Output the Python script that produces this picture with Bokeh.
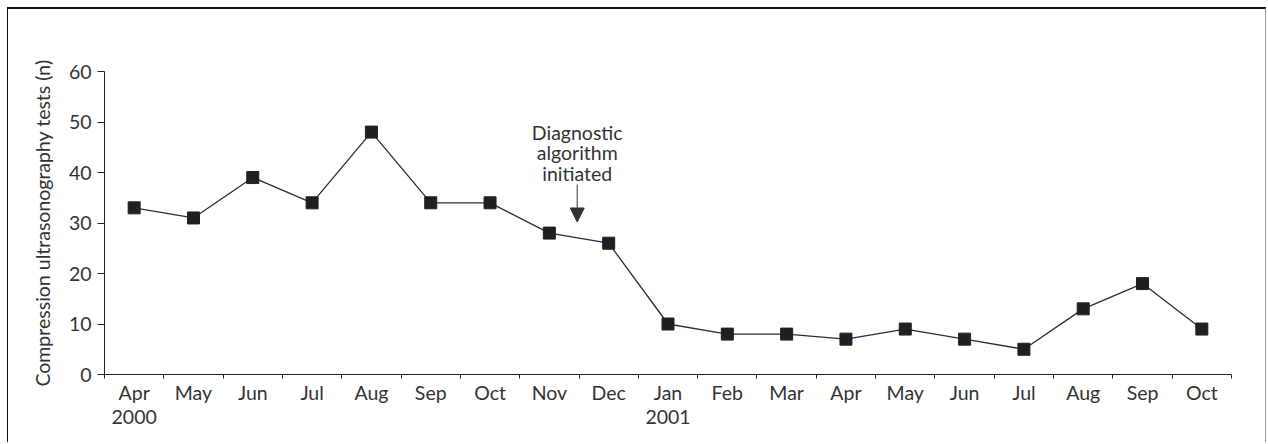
from bokeh.plotting import figure
from bokeh.models import Range1d, FixedTicker, ColumnDataSource, Arrow, NormalHead
from bokeh.core.properties import value
from bokeh.embed import file_html
from bokeh.resources import INLINE

months = ["Apr\n2000", "May", "Jun", "Jul", "Aug", "Sep", "Oct", "Nov", "Dec",
          "Jan\n2001", "Feb", "Mar", "Apr", "May", "Jun", "Jul", "Aug", "Sep", "Oct"]
tests = [33, 31, 39, 34, 48, 34, 34, 28, 26, 10, 8, 8, 7, 9, 7, 5, 13, 18, 9]
y_ticks = [0, 10, 20, 30, 40, 50, 60]
note_lines = ["Diagnostic", "algorithm", "initiated"]
note_y = [47.9, 43.9, 39.9]
note_x = 7.97
arrow_from, arrow_to = 37.6, 30.2

FONT = "Lato"
FS = "19.5px"
xpos = [i + 0.5 for i in range(len(months))]

p = figure(width=1259, height=435, output_backend="svg", toolbar_location=None,
           x_range=Range1d(0, len(months)), y_range=Range1d(0, 60),
           min_border_left=96, min_border_right=36, min_border_top=62, min_border_bottom=70)
p.styles = {"margin-left": "7px", "margin-top": "7px",
            "border-top": "2px solid #111", "border-left": "1px solid #111",
            "border-right": "1px solid #999"}
p.outline_line_color = None
p.grid.visible = False
p.background_fill_color = "white"
p.border_fill_color = "white"

src = ColumnDataSource(dict(x=xpos, y=tests))
p.line("x", "y", source=src, line_color="#2b2a45", line_width=1.3)
p.scatter("x", "y", source=src, marker="square", size=12, fill_color="#231f20", line_color="#231f20")

# x axis: labels centred on months, tick marks between months
xa = p.xaxis[0]
xa.ticker = FixedTicker(ticks=xpos, minor_ticks=list(range(len(months) + 1)))
xa.major_label_overrides = {x: m for x, m in zip(xpos, months)}
xa.major_tick_out = 0
xa.major_tick_in = 0
xa.minor_tick_out = 4
xa.minor_tick_in = 0
xa.minor_tick_line_color = "#222"
xa.axis_line_color = "#222"
xa.major_label_text_font = FONT
xa.major_label_text_font_size = FS
xa.major_label_text_color = "#333"
xa.major_label_text_line_height = 1.05
xa.major_label_standoff = 2

ya = p.yaxis[0]
ya.ticker = FixedTicker(ticks=y_ticks, minor_ticks=[])
ya.major_tick_out = 7
ya.major_tick_in = 0
ya.major_tick_line_color = "#222"
ya.axis_line_color = "#222"
ya.major_label_text_font = FONT
ya.major_label_text_font_size = FS
ya.major_label_text_color = "#333"
ya.major_label_standoff = 6
ya.axis_label = "Compression ultrasonography tests (n)"
ya.axis_label_text_font = FONT
ya.axis_label_text_font_size = FS
ya.axis_label_text_font_style = "normal"
ya.axis_label_text_color = "#333"
ya.axis_label_standoff = 12

for t, yy in zip(note_lines, note_y):
    p.text(x=[note_x], y=[yy], text=[t], text_font=value(FONT), text_font_size=FS,
           text_align="center", text_baseline="middle", text_color="#333")

p.add_layout(Arrow(end=NormalHead(size=14, fill_color="#333", line_color="#333"),
                   x_start=note_x, y_start=arrow_from, x_end=note_x, y_end=arrow_to,
                   line_color="#555", line_width=1.2))

open("out.html", "w").write(file_html(p, INLINE))
